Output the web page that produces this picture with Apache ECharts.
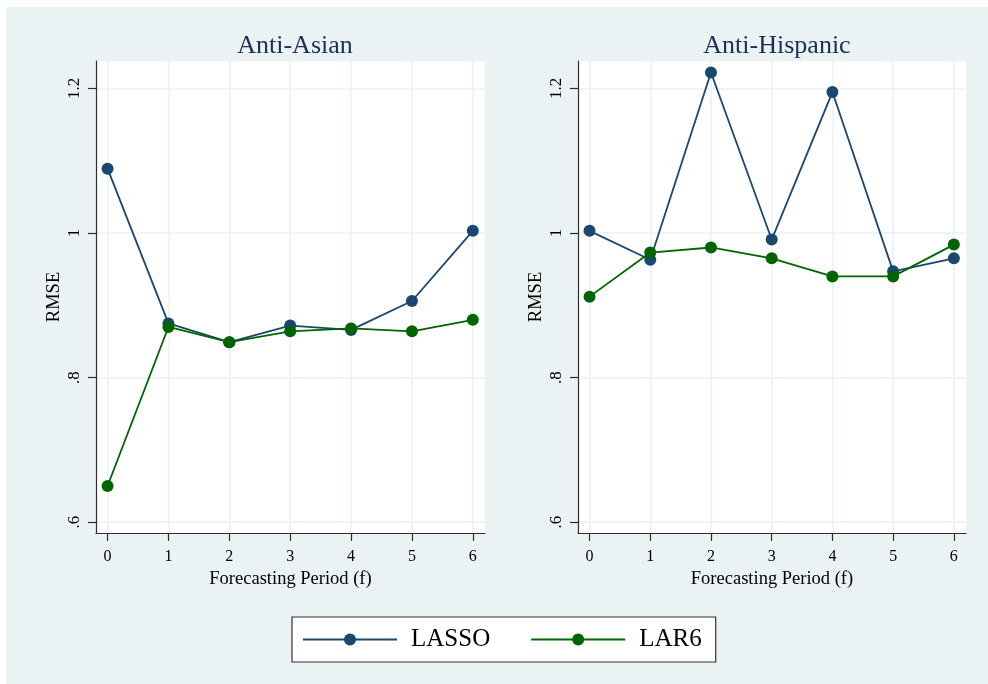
<!DOCTYPE html>
<html>
<head>
<meta charset="utf-8">
<script src="https://cdn.jsdelivr.net/npm/echarts@6/dist/echarts.min.js"></script>
<style>
  html, body { margin: 0; padding: 0; background: #ffffff; }
  #chart { width: 988px; height: 684px; }
</style>
</head>
<body>
<div id="chart"></div>
<script>
// Forecasting periods and RMSE values per model and panel
const periods = [0, 1, 2, 3, 4, 5, 6];
const panelTitles = ['Anti-Asian', 'Anti-Hispanic'];
const asianLasso = [1.089, 0.875, 0.849, 0.872, 0.866, 0.906, 1.003];
const asianLar6 = [0.650, 0.870, 0.849, 0.864, 0.868, 0.864, 0.880];
const hispLasso = [1.003, 0.963, 1.222, 0.991, 1.195, 0.947, 0.965];
const hispLar6 = [0.912, 0.973, 0.980, 0.965, 0.940, 0.940, 0.984];
const yTicks = [0.6, 0.8, 1.0, 1.2];
const xTicks = [0, 1, 2, 3, 4, 5, 6];

const serif = 'Liberation Serif, Times New Roman, serif';
const colLasso = '#1a476f';
const colLar6 = '#006400';
const gridCol = '#eaf2f3';
const axisCol = '#2e2e2e';

const pair = vals => periods.map((p, i) => [p, vals[i]]);
const fmtY = v => {
  const s = String(+(+v).toFixed(2));
  return s.replace(/^0\./, '.');
};

function xAxisFor(idx) {
  return {
    gridIndex: idx, type: 'value', min: -0.19, max: 6.2,
    name: 'Forecasting Period (f)', nameLocation: 'middle', nameGap: 34,
    nameTextStyle: { fontFamily: serif, fontSize: 18.5, color: '#000' },
    axisLine: { show: true, onZero: false, lineStyle: { color: axisCol, width: 1.2 } },
    axisTick: { show: true, length: 8, customValues: xTicks, lineStyle: { color: axisCol, width: 1.2 } },
    axisLabel: { customValues: xTicks, margin: 16, fontFamily: serif, fontSize: 16, color: '#000' },
    splitLine: { show: true, lineStyle: { color: gridCol, width: 1.5 } }
  };
}
function yAxisFor(idx) {
  return {
    gridIndex: idx, type: 'value', min: 0.585, max: 1.238,
    name: 'RMSE', nameLocation: 'middle', nameGap: 32, nameRotate: 90,
    nameTextStyle: { fontFamily: serif, fontSize: 18.5, color: '#000' },
    axisLine: { show: true, onZero: false, lineStyle: { color: axisCol, width: 1.2 } },
    axisTick: { show: true, length: 8, customValues: yTicks, lineStyle: { color: axisCol, width: 1.2 } },
    axisLabel: { customValues: yTicks, rotate: 90, margin: 13, formatter: fmtY,
      fontFamily: serif, fontSize: 17, color: '#000' },
    splitLine: { show: true, lineStyle: { color: gridCol, width: 1.5 } }
  };
}
function lineSeries(name, vals, color, idx) {
  return {
    name: name, type: 'line', xAxisIndex: idx, yAxisIndex: idx,
    data: pair(vals), symbol: 'circle', symbolSize: 12, showSymbol: true,
    lineStyle: { color: color, width: 1.8 }, itemStyle: { color: color },
    emphasis: { disabled: true }, animation: false
  };
}

const chart = echarts.init(document.getElementById('chart'), null, { renderer: 'canvas' });
chart.setOption({
  backgroundColor: 'transparent',
  animation: false,
  graphic: [{
    type: 'rect', z: -10, silent: true,
    shape: { x: 6, y: 7, width: 982, height: 677 },
    style: { fill: '#eaf2f3' }
  }],
  title: [
    { text: panelTitles[0], left: 290, top: 28, textAlign: 'center',
      textStyle: { fontFamily: serif, fontSize: 26, fontWeight: 'normal', color: '#1c2f56' } },
    { text: panelTitles[1], left: 772, top: 28, textAlign: 'center',
      textStyle: { fontFamily: serif, fontSize: 26, fontWeight: 'normal', color: '#1c2f56' } }
  ],
  grid: [
    { left: 96, top: 61, width: 389, height: 472, show: true, backgroundColor: '#ffffff', borderWidth: 0 },
    { left: 578, top: 61, width: 388, height: 472, show: true, backgroundColor: '#ffffff', borderWidth: 0 }
  ],
  xAxis: [xAxisFor(0), xAxisFor(1)],
  yAxis: [yAxisFor(0), yAxisFor(1)],
  legend: {
    data: ['LASSO', 'LAR6'],
    left: 292, top: 617,
    padding: [10, 14, 10, 10],
    itemWidth: 94, itemHeight: 15, itemGap: 40,
    backgroundColor: '#ffffff', borderColor: '#333333', borderWidth: 1.2,
    selectedMode: false,
    textStyle: { fontFamily: serif, fontSize: 25, color: '#000', padding: [0, 0, 0, 9], lineHeight: 25 }
  },
  series: [
    lineSeries('LASSO', asianLasso, colLasso, 0),
    lineSeries('LAR6', asianLar6, colLar6, 0),
    lineSeries('LASSO', hispLasso, colLasso, 1),
    lineSeries('LAR6', hispLar6, colLar6, 1)
  ]
});
</script>
</body>
</html>
